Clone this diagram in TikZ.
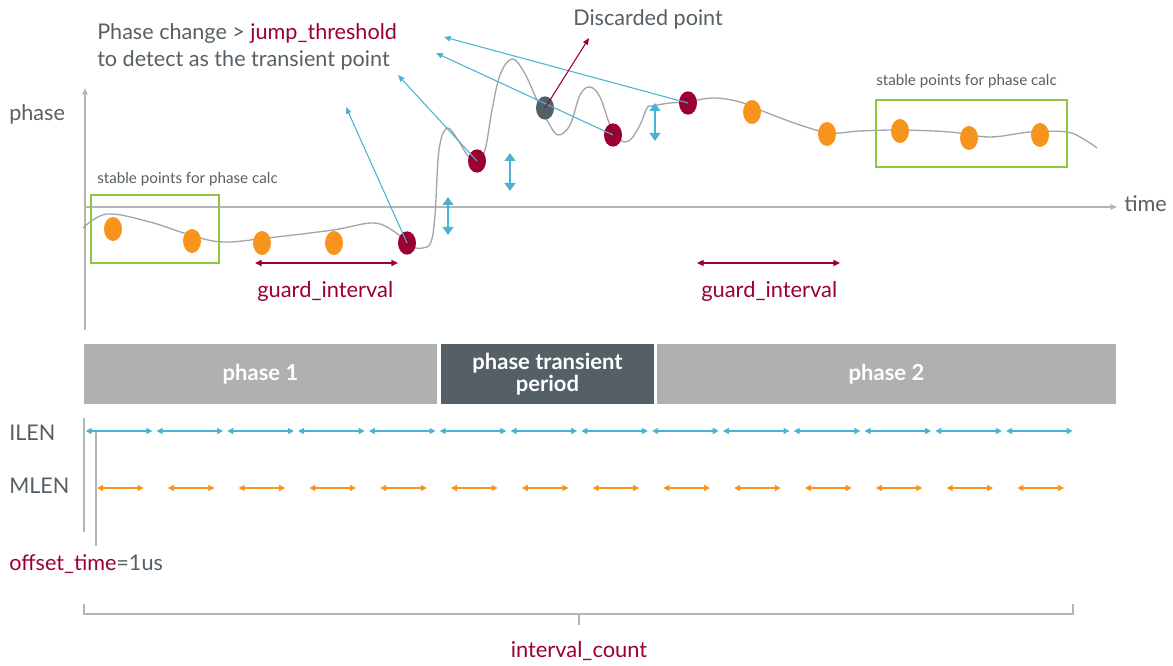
\documentclass[tikz,border=0pt]{standalone}
\usepackage{fontspec}
\setmainfont{Lato}
\usetikzlibrary{arrows.meta, positioning, shapes.geometric}

\definecolor{maroon}{HTML}{9B0031}
\definecolor{skyblue}{HTML}{4BB3D1}
\definecolor{amber}{HTML}{F7941D}
\definecolor{leaf}{HTML}{8DC63F}
\definecolor{slate}{HTML}{555F66}
\definecolor{axisgray}{HTML}{B4B4B4}
\definecolor{curvegray}{HTML}{A3A6A9}
\definecolor{barlight}{HTML}{AFB0B0}

\tikzset{
  bigtxt/.style={text=slate, font=\fontsize{16.2}{19}\selectfont, inner sep=0pt},
  smalltxt/.style={text=slate, font=\fontsize{11.4}{13}\selectfont, inner sep=0pt},
  redtxt/.style={text=maroon, font=\fontsize{16.4}{19}\selectfont, inner sep=0pt},
  stablept/.style={ellipse, fill=amber, minimum width=13.5pt, minimum height=18pt, inner sep=0pt},
  jumppt/.style={ellipse, fill=maroon, minimum width=13.5pt, minimum height=17.5pt, inner sep=0pt},
  droppt/.style={ellipse, fill=slate, minimum width=13.5pt, minimum height=17.5pt, inner sep=0pt},
  stablebox/.style={draw=leaf, line width=1pt},
  pointer/.style={skyblue, line width=0.8pt, -{Triangle[length=5pt,width=4pt]}},
  jumpbar/.style={skyblue, line width=1.6pt, {Triangle[length=6pt,width=8pt]}-{Triangle[length=6pt,width=8pt]}},
  guardbar/.style={maroon, line width=1pt, {Triangle[length=5pt,width=4.5pt]}-{Triangle[length=5pt,width=4.5pt]}},
  ilenbar/.style={skyblue, line width=1pt, {Triangle[length=4.5pt,width=4.5pt]}-{Triangle[length=4.5pt,width=4.5pt]}},
  mlenbar/.style={amber, line width=1pt, {Triangle[length=4.5pt,width=4.5pt]}-{Triangle[length=4.5pt,width=4.5pt]}},
  axis/.style={axisgray, line width=1pt, -{Triangle[length=5pt,width=4pt]}},
  phasebar/.style={minimum height=45pt, inner sep=0pt, text=white, align=center,
    font=\bfseries\fontsize{16.5}{15}\selectfont},
}

\begin{document}
\begin{tikzpicture}[x=0.75pt, y=-0.75pt]
    \useasboundingbox (0,0) rectangle (1173,666);

    % axes
    \coordinate (origin) at (85,330);
    \coordinate (ytop) at (85,88);
    \coordinate (xleft) at (85,207);
    \coordinate (xright) at (1117,207);
    \draw[axis] (origin) -- (ytop);
    \draw[axis] (xleft) -- (xright);
    \node[bigtxt, anchor=base west] (ylabel) at (9,121) {phase};
    \node[bigtxt, anchor=base west] (xlabel) at (1124,212) {time};

    % phase curve
    \draw[curvegray, line width=1pt] plot[smooth, tension=0.6] coordinates {
      (83,228) (107,214) (150,222) (190,235) (223,242) (267,238) (333,230)
      (373,223) (395,232) (410,246) (423,248) (431,242) (435,215) (439,150)
      (447,128) (458,140) (468,156) (477,160) (485,150) (492,110) (500,75)
      (512,59) (524,72) (537,100) (548,122) (558,135) (570,125) (580,95)
      (590,87) (600,97) (610,125) (620,140) (630,140) (640,125) (647,108)
      (652,106) (670,103) (687,102) (713,98) (740,102) (765,112) (800,125)
      (830,133) (860,131) (900,130) (950,132) (990,137) (1030,132) (1067,132)
      (1085,140) (1097,148)};

    % stable boxes
    \draw[stablebox] (91,195) rectangle (219,263);
    \draw[stablebox] (876,100) rectangle (1067,167);
    \node[smalltxt, anchor=base west] (stableL) at (97,184) {stable points for phase calc};
    \node[smalltxt, anchor=base west] (stableR) at (876,86) {stable points for phase calc};

    % sample points
    \node[stablept] (s1) at (113,229) {};
    \node[stablept] (s2) at (192,241) {};
    \node[stablept] (s3) at (262,243) {};
    \node[stablept] (s4) at (334,243) {};
    \node[stablept] (s5) at (752,112) {};
    \node[stablept] (s6) at (827,134) {};
    \node[stablept] (s7) at (900,131) {};
    \node[stablept] (s8) at (969,138) {};
    \node[stablept] (s9) at (1040,135) {};
    \node[jumppt] (j1) at (407,243) {};
    \node[jumppt] (j2) at (477,161) {};
    \node[jumppt] (j3) at (613,135) {};
    \node[jumppt] (j4) at (688,103) {};
    \node[droppt] (drop) at (545,108) {};

    % annotation
    \node[bigtxt, anchor=base west] (note1) at (97,40)
      {Phase change > \textcolor{maroon}{jump\_threshold}};
    \node[bigtxt, anchor=base west] (note2) at (97,66.5)
      {to detect as the transient point};
    \node[bigtxt, anchor=base west] (droplabel) at (573,26) {Discarded point};

    \coordinate (tip1) at (346,107);
    \coordinate (tip2) at (398,75);
    \coordinate (tip3) at (436,53);
    \coordinate (tip4) at (444,37);
    \coordinate (droptip) at (589,38);
    \draw[pointer] (j1.center) -- (tip1);
    \draw[pointer] (j2.center) -- (tip2);
    \draw[pointer] (j3.center) -- (tip3);
    \draw[pointer] (j4.center) -- (tip4);
    \draw[maroon, line width=0.8pt, -{Triangle[length=5pt,width=4pt]}] (drop.center) -- (droptip);

    % jump sizes
    \draw[jumpbar] (448,197) -- (448,235);
    \draw[jumpbar] (510,153) -- (510,191);
    \draw[jumpbar] (655,103) -- (655,141);

    % guard intervals
    \coordinate (g1a) at (255,263);
    \coordinate (g1b) at (398,263);
    \coordinate (g2a) at (697,263);
    \coordinate (g2b) at (840,263);
    \draw[guardbar] (g1a) -- (g1b);
    \draw[guardbar] (g2a) -- (g2b);
    \node[redtxt, anchor=base west] (guard1) at (257,298) {guard\_interval};
    \node[redtxt, anchor=base west] (guard2) at (701,297) {guard\_interval};

    % phase bars
    \node[phasebar, fill=barlight, minimum width=264.75pt] (phase1) at (260.5,374) {phase 1};
    \node[phasebar, fill=slate, minimum width=159.75pt] (transient) at (547.5,374) {phase transient\\period};
    \node[phasebar, fill=barlight, minimum width=344.25pt] (phase2) at (886.5,374) {phase 2};

    % ILEN / MLEN
    \node[bigtxt, anchor=base west] (ilen) at (9,440) {ILEN};
    \node[bigtxt, anchor=base west] (mlen) at (9,493) {MLEN};
    \draw[axisgray, line width=1pt] (84,418) -- (84,532);
    \draw[axisgray, line width=1pt] (96,432) -- (96,546);
    \foreach \i in {0,...,13} {
      \draw[ilenbar] (85.7+70.8*\i,431) -- ++(66.6,0);
      \draw[mlenbar] (97+70.8*\i,488) -- ++(46.6,0);
    }
    \node[bigtxt, anchor=base west] (offset) at (9,570)
      {\textcolor{maroon}{offset\_time}=1us};

    % interval count bracket
    \coordinate (brl) at (84,604);
    \coordinate (brr) at (1073,604);
    \coordinate (brm) at (579,614);
    \draw[axisgray, line width=1pt] (brl) |- (brm) -| (brr);
    \draw[axisgray, line width=1pt] (brm) -- ++(0,11);
    \node[redtxt, anchor=base] (count) at (579,657) {interval\_count};
\end{tikzpicture}
\end{document}
